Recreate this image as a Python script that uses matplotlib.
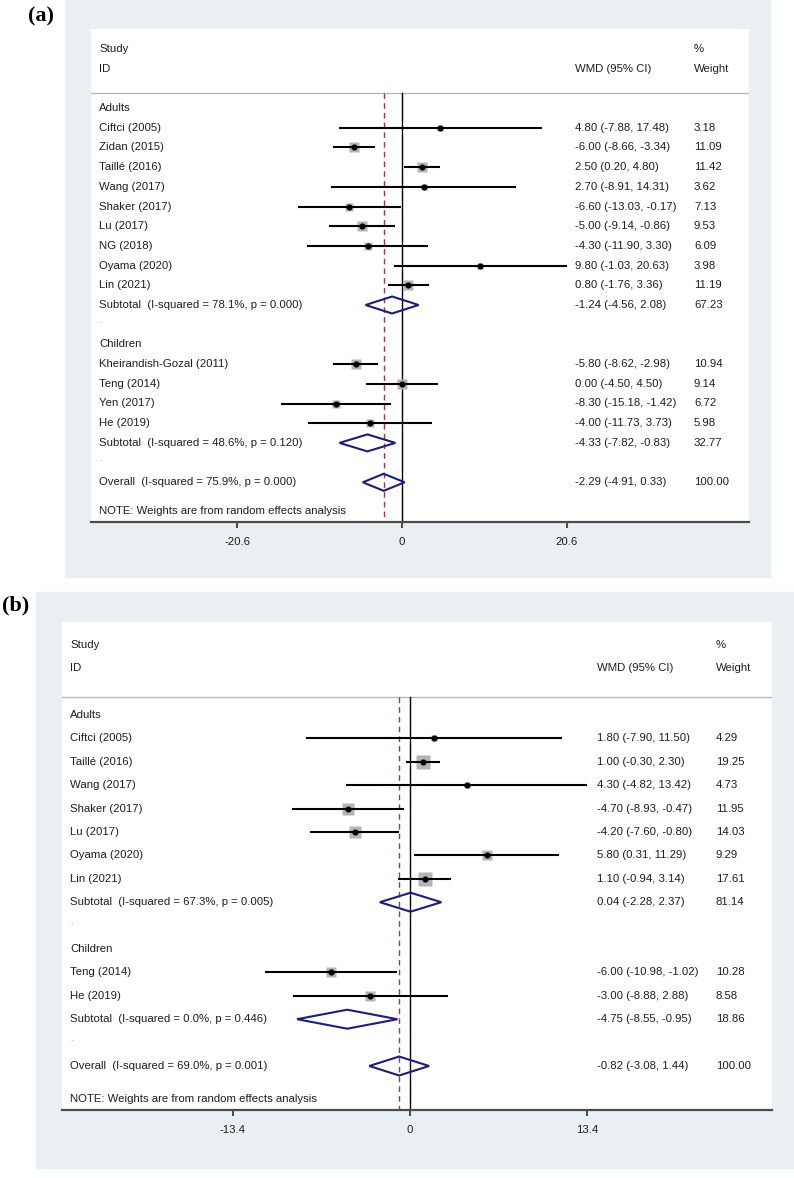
import matplotlib.pyplot as plt
from matplotlib.patches import Rectangle, Polygon

plt.rcParams['font.family'] = ['Liberation Sans', 'DejaVu Sans']

W, H = 794, 1178

# ---- panel (a) data
A_ADULT_NAMES = ["Ciftci (2005)", "Zidan (2015)", "Taillé (2016)", "Wang (2017)", "Shaker (2017)",
                 "Lu (2017)", "NG (2018)", "Oyama (2020)", "Lin (2021)"]
A_ADULT_WMD = [4.80, -6.00, 2.50, 2.70, -6.60, -5.00, -4.30, 9.80, 0.80]
A_ADULT_LO = [-7.88, -8.66, 0.20, -8.91, -13.03, -9.14, -11.90, -1.03, -1.76]
A_ADULT_HI = [17.48, -3.34, 4.80, 14.31, -0.17, -0.86, 3.30, 20.63, 3.36]
A_ADULT_W = [3.18, 11.09, 11.42, 3.62, 7.13, 9.53, 6.09, 3.98, 11.19]
A_CHILD_NAMES = ["Kheirandish-Gozal (2011)", "Teng (2014)", "Yen (2017)", "He (2019)"]
A_CHILD_WMD = [-5.80, 0.00, -8.30, -4.00]
A_CHILD_LO = [-8.62, -4.50, -15.18, -11.73]
A_CHILD_HI = [-2.98, 4.50, -1.42, 3.73]
A_CHILD_W = [10.94, 9.14, 6.72, 5.98]
A_SUB_WMD = [-1.24, -4.33]
A_SUB_LO = [-4.56, -7.82]
A_SUB_HI = [2.08, -0.83]
A_SUB_W = [67.23, 32.77]
A_SUB_I2 = ["78.1%", "48.6%"]
A_SUB_P = ["0.000", "0.120"]
A_ALL = [-2.29, -4.91, 0.33, 100.00]
A_ALL_I2, A_ALL_P = "75.9%", "0.000"
A_TICKS = [-20.6, 0, 20.6]

# ---- panel (b) data
B_ADULT_NAMES = ["Ciftci (2005)", "Taillé (2016)", "Wang (2017)", "Shaker (2017)", "Lu (2017)",
                 "Oyama (2020)", "Lin (2021)"]
B_ADULT_WMD = [1.80, 1.00, 4.30, -4.70, -4.20, 5.80, 1.10]
B_ADULT_LO = [-7.90, -0.30, -4.82, -8.93, -7.60, 0.31, -0.94]
B_ADULT_HI = [11.50, 2.30, 13.42, -0.47, -0.80, 11.29, 3.14]
B_ADULT_W = [4.29, 19.25, 4.73, 11.95, 14.03, 9.29, 17.61]
B_CHILD_NAMES = ["Teng (2014)", "He (2019)"]
B_CHILD_WMD = [-6.00, -3.00]
B_CHILD_LO = [-10.98, -8.88]
B_CHILD_HI = [-1.02, 2.88]
B_CHILD_W = [10.28, 8.58]
B_SUB_WMD = [0.04, -4.75]
B_SUB_LO = [-2.28, -8.55]
B_SUB_HI = [2.37, -0.95]
B_SUB_W = [81.14, 18.86]
B_SUB_I2 = ["67.3%", "0.0%"]
B_SUB_P = ["0.005", "0.446"]
B_ALL = [-0.82, -3.08, 1.44, 100.00]
B_ALL_I2, B_ALL_P = "69.0%", "0.001"
B_TICKS = [-13.4, 0, 13.4]

GROUPS = ["Adults", "Children"]

BG = "#e9eff2"
TXT = "#1e1e1e"
NAVY = "#1c1e78"
MAROON = "#9a3a44"
BOXGREY = "#b4b4b4"
AXGREY = "#4d4d4d"

fig = plt.figure(figsize=(W / 100, H / 100), dpi=100)


def fmt(e, l, h):
    return f"{e:.2f} ({l:.2f}, {h:.2f})"


def draw_panel(box, plot, zero_px, ppu, row0_px, step_px, studies, subs, overall, ticks,
               col_wmd, col_w, note_off, diam_px, box_k, label, label_xy):
    bx0, by0, bx1, by1 = box
    fig.add_artist(Rectangle((bx0 / W, 1 - by1 / H), (bx1 - bx0) / W, (by1 - by0) / H,
                             transform=fig.transFigure, color=BG, zorder=0))
    fig.text(label_xy[0] / W, 1 - label_xy[1] / H, label, family='Liberation Serif',
             fontweight='bold', fontsize=16, ha='center', va='center')

    left, top, right, bottom = plot
    ax = fig.add_axes([left / W, 1 - bottom / H, (right - left) / W, (bottom - top) / H])
    ax.set_xlim((left - zero_px) / ppu, (right - zero_px) / ppu)
    ybot = (bottom - row0_px) / step_px
    ax.set_ylim(ybot, (top - row0_px) / step_px)
    tr = ax.get_yaxis_transform()
    fx = lambda px: (px - left) / (right - left)
    x_lab, x_wmd, x_w = fx(left + 8), fx(col_wmd), fx(col_w)
    kw = dict(fontsize=8.2, color=TXT, va='center', transform=tr)

    ax.text(x_lab, -3, "Study", **kw)
    ax.text(x_lab, -2, "ID", **kw)
    ax.text(x_wmd, -2, "WMD (95% CI)", **kw)
    ax.text(x_w, -3, "%", **kw)
    ax.text(x_w, -2, "Weight", **kw)
    ax.axhline(-0.75, color="#b8b8b8", lw=1)

    ov = overall[0]
    ax.plot([0, 0], [-0.75, ybot], color='black', lw=1, zorder=2)
    ax.plot([ov, ov], [-0.75, ybot], color=MAROON, lw=1, ls=(0, (4, 3)), zorder=2)

    dh = diam_px / 2 / step_px

    def diamond(e, l, h, y):
        ax.add_patch(Polygon([(l, y), (e, y - dh), (h, y), (e, y + dh)], closed=True,
                             fill=False, edgecolor=NAVY, lw=1.5, zorder=4))

    row = 0
    for g, (names, est, lo, hi, w) in enumerate(studies):
        ax.text(x_lab, row, GROUPS[g], **kw)
        row += 1
        for n, e, l, h, wt in zip(names, est, lo, hi, w):
            ax.plot([l, h], [row, row], color='black', lw=1.5, zorder=3, solid_capstyle='butt')
            ax.plot(e, row, marker='s', ms=box_k * wt ** 0.5 * 0.72, color=BOXGREY, mec='none', zorder=2.5)
            ax.plot(e, row, marker='o', ms=3.4, color='black', zorder=5)
            ax.text(x_lab, row, n, **kw)
            ax.text(x_wmd, row, fmt(e, l, h), **kw)
            ax.text(x_w, row, f"{wt:.2f}", **kw)
            row += 1
        se, sl, sh, sw, si, sp = subs[0][g], subs[1][g], subs[2][g], subs[3][g], subs[4][g], subs[5][g]
        diamond(se, sl, sh, row)
        ax.text(x_lab, row, f"Subtotal  (I-squared = {si}, p = {sp})", **kw)
        ax.text(x_wmd, row, fmt(se, sl, sh), **kw)
        ax.text(x_w, row, f"{sw:.2f}", **kw)
        row += 1
        ax.text(x_lab, row - 0.15, ".", fontsize=6, color="#777777", va='center', transform=tr)
        row += 1

    e, l, h, wt, i2, p = overall
    diamond(e, l, h, row)
    ax.text(x_lab, row, f"Overall  (I-squared = {i2}, p = {p})", **kw)
    ax.text(x_wmd, row, fmt(e, l, h), **kw)
    ax.text(x_w, row, f"{wt:.2f}", **kw)
    ax.text(x_lab, row + note_off, "NOTE: Weights are from random effects analysis", **kw)

    for s in ['top', 'left', 'right']:
        ax.spines[s].set_visible(False)
    ax.spines['bottom'].set_color(AXGREY)
    ax.spines['bottom'].set_linewidth(1.6)
    ax.set_yticks([])
    ax.set_xticks(ticks)
    ax.set_xticklabels([f"{t:g}" for t in ticks])
    ax.tick_params(axis='x', direction='out', length=4.5, width=1.5, color=AXGREY,
                   labelsize=8.2, labelcolor=TXT, pad=6.5)
    return ax


draw_panel(box=(65, 0, 770, 577), plot=(91, 29, 749, 522), zero_px=402, ppu=7.99,
           row0_px=108, step_px=19.7,
           studies=[(A_ADULT_NAMES, A_ADULT_WMD, A_ADULT_LO, A_ADULT_HI, A_ADULT_W),
                    (A_CHILD_NAMES, A_CHILD_WMD, A_CHILD_LO, A_CHILD_HI, A_CHILD_W)],
           subs=[A_SUB_WMD, A_SUB_LO, A_SUB_HI, A_SUB_W, A_SUB_I2, A_SUB_P],
           overall=A_ALL + [A_ALL_I2, A_ALL_P], ticks=A_TICKS,
           col_wmd=575, col_w=694, note_off=1.47, diam_px=17, box_k=3.0,
           label="(a)", label_xy=(41, 16))

draw_panel(box=(36, 592, 794, 1168), plot=(62, 622, 772, 1110), zero_px=410, ppu=13.21,
           row0_px=715, step_px=23.4,
           studies=[(B_ADULT_NAMES, B_ADULT_WMD, B_ADULT_LO, B_ADULT_HI, B_ADULT_W),
                    (B_CHILD_NAMES, B_CHILD_WMD, B_CHILD_LO, B_CHILD_HI, B_CHILD_W)],
           subs=[B_SUB_WMD, B_SUB_LO, B_SUB_HI, B_SUB_W, B_SUB_I2, B_SUB_P],
           overall=B_ALL + [B_ALL_I2, B_ALL_P], ticks=B_TICKS,
           col_wmd=597, col_w=716, note_off=1.42, diam_px=19, box_k=3.2,
           label="(b)", label_xy=(16, 605))

fig.savefig("out.png", dpi=100)
